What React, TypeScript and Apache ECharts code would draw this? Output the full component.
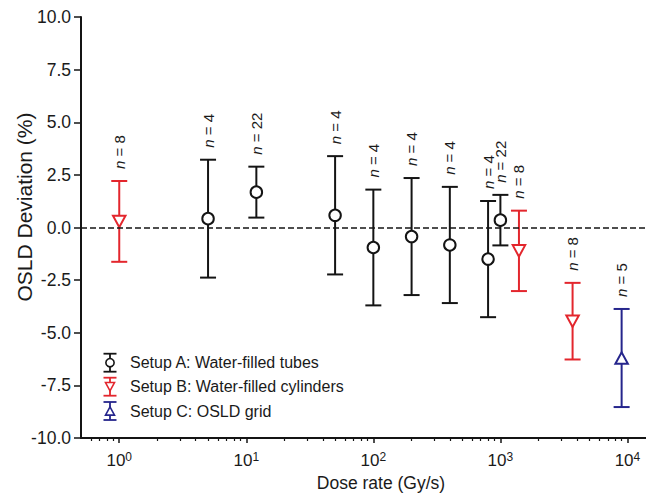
import React, { useEffect, useRef } from 'react';
import * as echarts from 'echarts';

const FONT = '"Liberation Sans", Arial, Helvetica, sans-serif';

// Setup A: water-filled tubes
const doseA = [5, 12, 50, 100, 200, 400, 800, 1000];
const devA = [0.42, 1.68, 0.58, -0.95, -0.43, -0.83, -1.5, 0.35];
const errA = [2.8, 1.21, 2.81, 2.75, 2.78, 2.76, 2.76, 1.2];
const nA = [4, 22, 4, 4, 4, 4, 4, 22];

// Setup B: water-filled cylinders
const doseB = [1, 1400, 3700];
const devB = [0.29, -1.11, -4.45];
const errB = [1.92, 1.91, 1.82];
const nB = [8, 8, 8];

// Setup C: OSLD grid
const doseC = [9000];
const devC = [-6.2];
const errC = [2.33];
const nC = [5];

const seriesNames = [
  'Setup A: Water-filled tubes',
  'Setup B: Water-filled cylinders',
  'Setup C: OSLD grid',
];
const seriesColors = ['#141414', '#e3262d', '#25258c'];
const seriesMarkers = ['circle', 'triangleDown', 'triangleUp'];

const xMajorTicks = [1, 10, 100, 1000, 10000];
const xMinorTicks = [
  0.6, 0.7, 0.8, 0.9,
  2, 3, 4, 5, 6, 7, 8, 9,
  20, 30, 40, 50, 60, 70, 80, 90,
  200, 300, 400, 500, 600, 700, 800, 900,
  2000, 3000, 4000, 5000, 6000, 7000, 8000, 9000,
];

function markerShape(kind: string, cx: number, cy: number, size: number, color: string, lw: number) {
  const style = { fill: '#ffffff', stroke: color, lineWidth: lw };
  if (kind === 'circle') {
    return { type: 'circle', shape: { cx, cy, r: size * 0.46 }, style };
  }
  const hw = size / 2;
  const hh = size * 0.46;
  if (kind === 'triangleDown') {
    return {
      type: 'polygon',
      shape: { points: [[cx - hw, cy - hh], [cx + hw, cy - hh], [cx, cy + hh]] },
      style,
    };
  }
  return {
    type: 'polygon',
    shape: { points: [[cx - hw, cy + hh], [cx + hw, cy + hh], [cx, cy - hh]] },
    style,
  };
}

function makeRender(color: string, marker: string) {
  return (params: any, api: any) => {
    const x = api.value(0);
    const y = api.value(1);
    const e = api.value(2);
    const n = api.value(3);
    const top = api.coord([x, y + e]);
    const bot = api.coord([x, y - e]);
    const c = api.coord([x, y]);
    const cap = 8;
    const ls = { stroke: color, lineWidth: 2 };
    return {
      type: 'group',
      children: [
        { type: 'line', shape: { x1: top[0], y1: top[1], x2: bot[0], y2: bot[1] }, style: ls },
        { type: 'line', shape: { x1: top[0] - cap, y1: top[1], x2: top[0] + cap, y2: top[1] }, style: ls },
        { type: 'line', shape: { x1: bot[0] - cap, y1: bot[1], x2: bot[0] + cap, y2: bot[1] }, style: ls },
        markerShape(marker, c[0], c[1], 12.5, color, 2),
        {
          type: 'text',
          x: top[0],
          y: top[1] - 12,
          rotation: Math.PI / 2,
          style: {
            text: '{i|n} = ' + n,
            fontSize: 15,
            fontFamily: FONT,
            fill: '#1a1a1a',
            align: 'left',
            verticalAlign: 'middle',
            rich: {
              i: { fontStyle: 'italic', fontSize: 15, fontFamily: FONT, fill: '#1a1a1a' },
            },
          },
        },
      ],
    };
  };
}

function build(dose: number[], dev: number[], err: number[], n: number[]) {
  return dose.map((d, i) => [d, dev[i], err[i], n[i]]);
}

function legendGraphic() {
  const rows = [362.7, 386.7, 411];
  const ix = 110;
  const children: any[] = [];
  rows.forEach((ry, i) => {
    const color = seriesColors[i];
    const ls = { stroke: color, lineWidth: 1.8 };
    children.push(
      { type: 'line', shape: { x1: ix, y1: ry - 9, x2: ix, y2: ry + 9 }, style: ls },
      { type: 'line', shape: { x1: ix - 6.5, y1: ry - 9, x2: ix + 6.5, y2: ry - 9 }, style: ls },
      { type: 'line', shape: { x1: ix - 6.5, y1: ry + 9, x2: ix + 6.5, y2: ry + 9 }, style: ls },
      markerShape(seriesMarkers[i], ix, ry, 9, color, 1.6),
      {
        type: 'text',
        x: 130,
        y: ry,
        style: {
          text: seriesNames[i],
          fontSize: 16,
          fontFamily: FONT,
          fill: '#1a1a1a',
          align: 'left',
          verticalAlign: 'middle',
        },
      }
    );
  });
  return { type: 'group', children };
}

export default function App() {
  const ref = useRef<HTMLDivElement>(null);
  useEffect(() => {
    if (!ref.current) return;
    const chart = echarts.init(ref.current, undefined, { renderer: 'svg' });
    const logAxisBase = {
      type: 'log' as const,
      logBase: 10,
      min: 0.5,
      max: 14000,
      position: 'bottom' as const,
      splitLine: { show: false },
    };
    chart.setOption({
      animation: false,
      backgroundColor: '#ffffff',
      grid: { left: 81, right: 0, top: 17, bottom: 56, containLabel: false },
      xAxis: [
        {
          ...logAxisBase,
          axisLine: { show: true, onZero: false, lineStyle: { color: '#141414', width: 2 } },
          axisTick: { show: true, customValues: xMajorTicks, length: 5, lineStyle: { color: '#141414', width: 1.5 } },
          axisLabel: {
            customValues: xMajorTicks,
            margin: 13,
            formatter: (v: number) => '{b|10}{s|' + Math.round(Math.log10(v)) + '}',
            rich: {
              b: { fontSize: 17, fontFamily: FONT, color: '#1a1a1a', lineHeight: 18 },
              s: { fontSize: 12, fontFamily: FONT, color: '#1a1a1a', verticalAlign: 'top', lineHeight: 12 },
            },
          },
        },
        {
          ...logAxisBase,
          axisLine: { show: false, onZero: false },
          axisTick: { show: true, customValues: xMinorTicks, length: 3, lineStyle: { color: '#141414', width: 1.2 } },
          axisLabel: { show: false },
        },
      ],
      yAxis: {
        type: 'value',
        min: -10,
        max: 10,
        interval: 2.5,
        axisLine: { show: true, onZero: false, lineStyle: { color: '#141414', width: 2 } },
        axisTick: { show: true, length: 7, lineStyle: { color: '#141414', width: 1.5 } },
        axisLabel: {
          fontSize: 17.5,
          fontFamily: FONT,
          color: '#1a1a1a',
          margin: 10,
          formatter: (v: number) => v.toFixed(1),
        },
        splitLine: { show: false },
      },
      graphic: [
        {
          type: 'text',
          x: 24,
          y: 207,
          rotation: Math.PI / 2,
          style: {
            text: 'OSLD Deviation (%)',
            fontSize: 21,
            fontFamily: FONT,
            fill: '#1a1a1a',
            align: 'center',
            verticalAlign: 'middle',
          },
        },
        {
          type: 'text',
          x: 381,
          y: 483,
          style: {
            text: 'Dose rate (Gy/s)',
            fontSize: 17.5,
            fontFamily: FONT,
            fill: '#1a1a1a',
            align: 'center',
            verticalAlign: 'middle',
          },
        },
        legendGraphic(),
      ],
      series: [
        {
          type: 'line',
          name: 'zero',
          data: [],
          xAxisIndex: 0,
          silent: true,
          z: 1,
          markLine: {
            silent: true,
            symbol: 'none',
            label: { show: false },
            lineStyle: { color: '#141414', width: 1.5, type: 'dashed' },
            data: [{ yAxis: 0 }],
          },
        },
        {
          type: 'custom',
          name: seriesNames[0],
          xAxisIndex: 0,
          z: 3,
          clip: false,
          renderItem: makeRender(seriesColors[0], seriesMarkers[0]),
          data: build(doseA, devA, errA, nA),
        },
        {
          type: 'custom',
          name: seriesNames[1],
          xAxisIndex: 0,
          z: 3,
          clip: false,
          renderItem: makeRender(seriesColors[1], seriesMarkers[1]),
          data: build(doseB, devB, errB, nB),
        },
        {
          type: 'custom',
          name: seriesNames[2],
          xAxisIndex: 0,
          z: 3,
          clip: false,
          renderItem: makeRender(seriesColors[2], seriesMarkers[2]),
          data: build(doseC, devC, errC, nC),
        },
      ],
    });
    return () => chart.dispose();
  }, []);
  return (
    <div
      ref={ref}
      style={{ position: 'absolute', left: 0, top: 0, width: 646, height: 494, background: '#fff' }}
    />
  );
}
